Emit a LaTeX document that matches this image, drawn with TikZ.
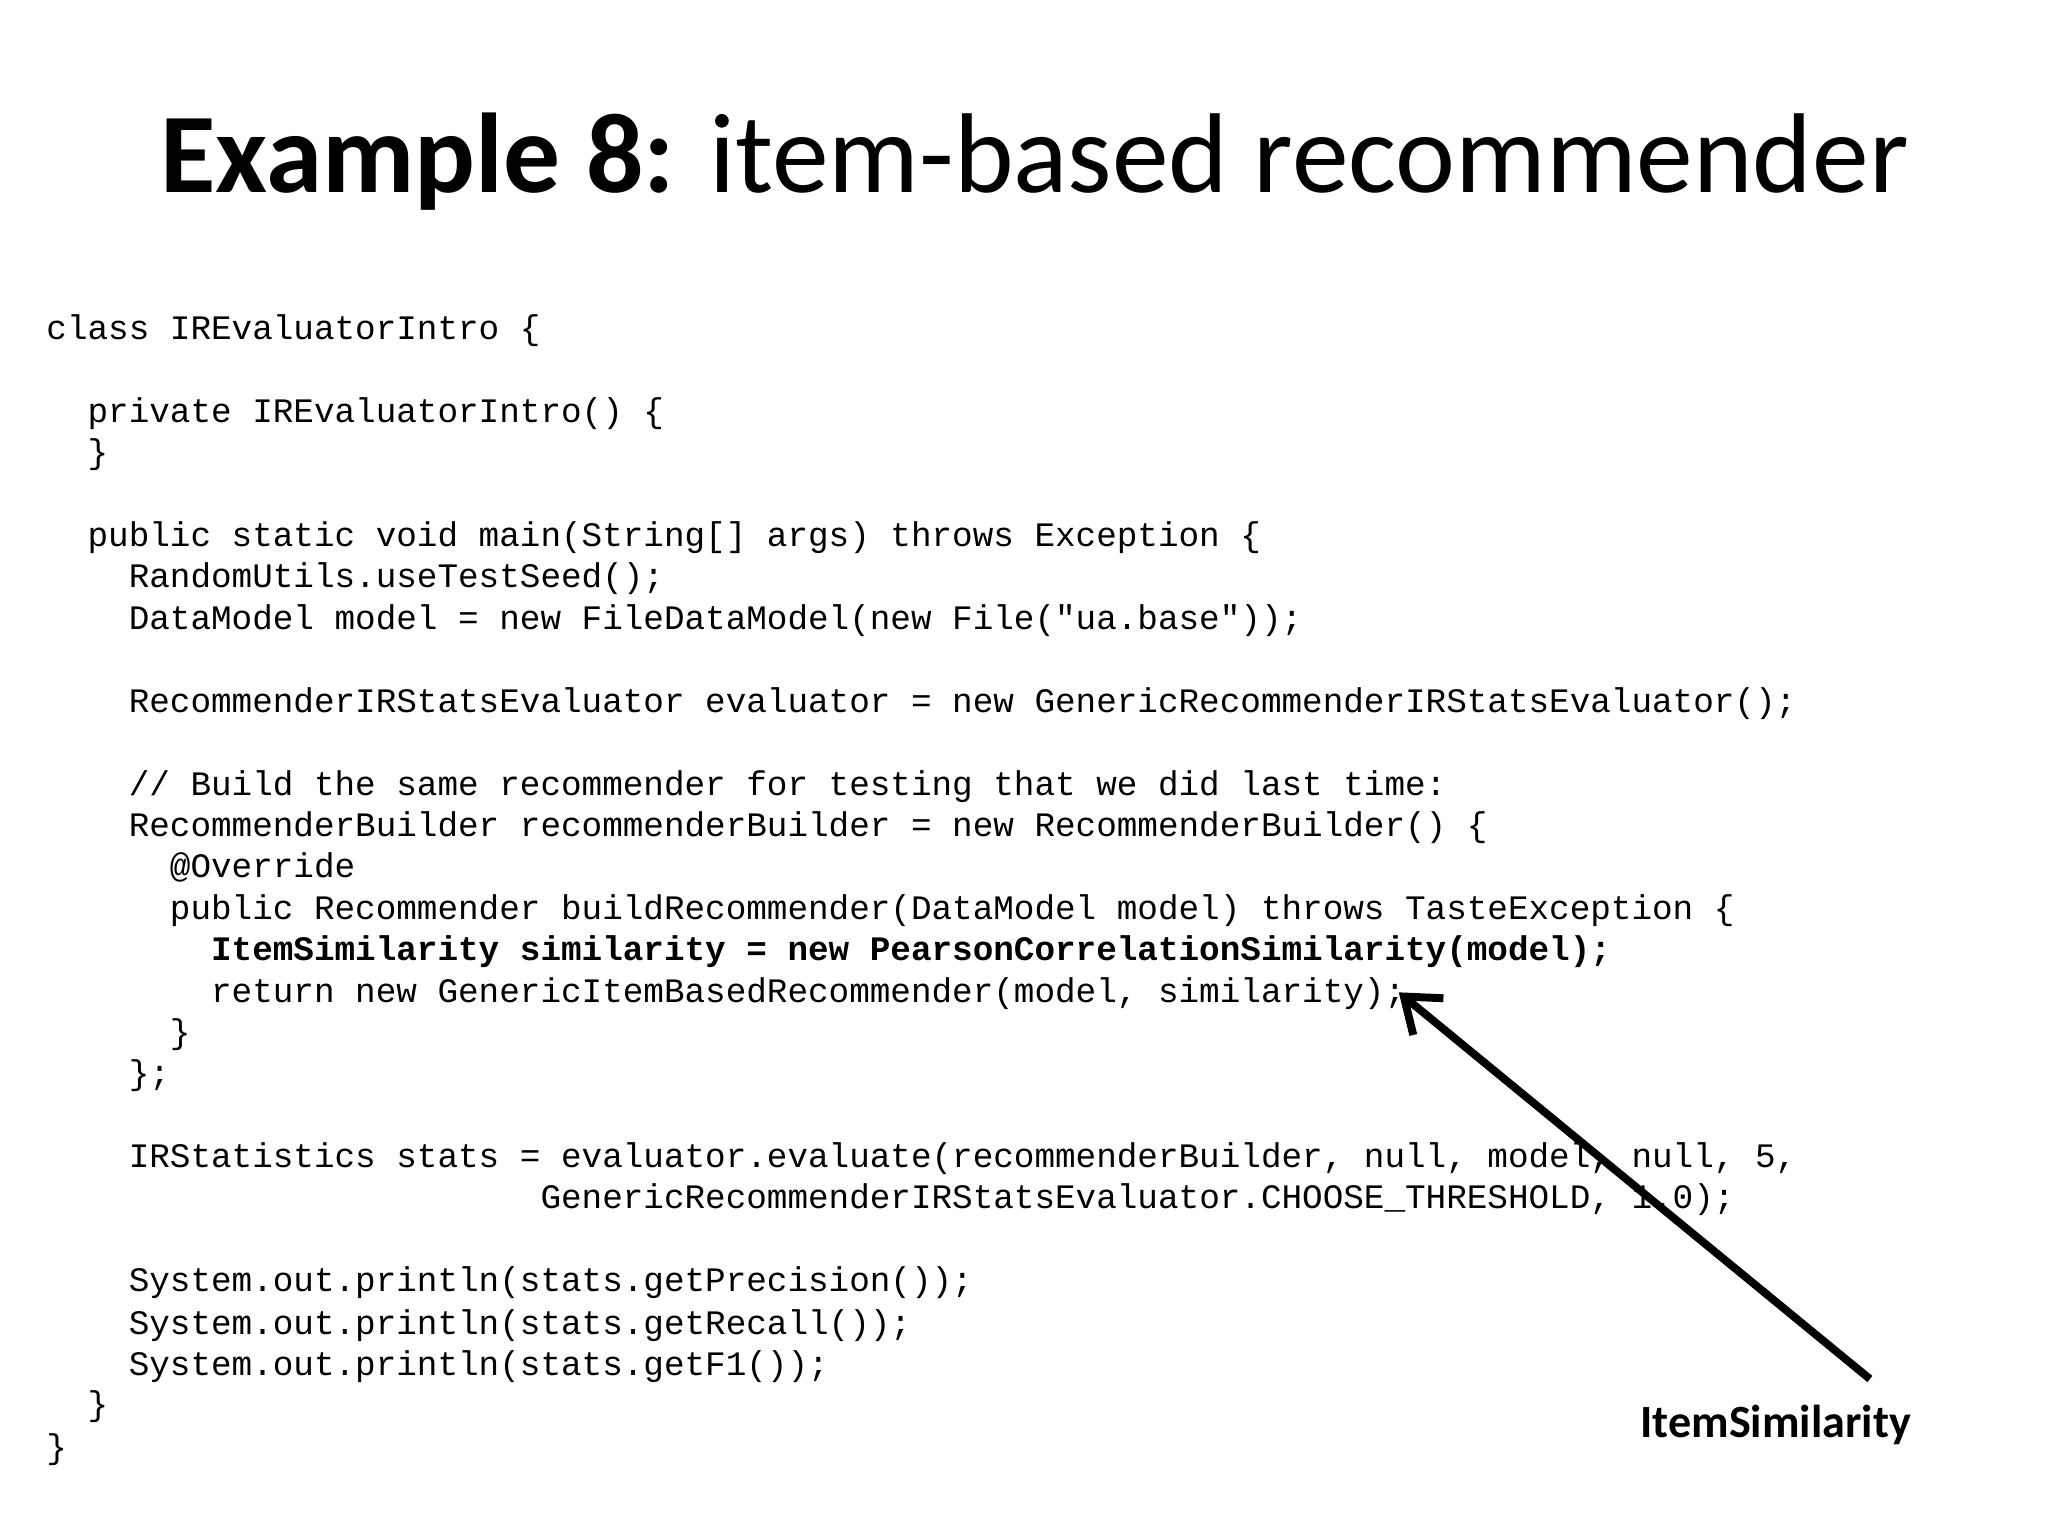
\documentclass[tikz,border=0pt]{standalone}
\usepackage{fontspec}
\setmainfont{Carlito}
\setmonofont{Liberation Mono}
\usetikzlibrary{arrows.meta}
\begin{document}
\begin{tikzpicture}[x=1pt,y=-1pt,
  code/.style={anchor=base west,inner sep=0pt,font=\fontsize{26}{31.5}\selectfont\ttfamily}]
\useasboundingbox (0,0) rectangle (1552,1164);
\node[inner sep=0pt,anchor=base] (title) at (784,146) {\fontsize{86}{96}\selectfont\textbf{Example 8:} item-based recommender};
\def\cw{15.6}
\foreach \n/\ind/\y/\t in {
 1/0/253/{class IREvaluatorIntro \{},
 2/2/316/{private IREvaluatorIntro() \{},
 3/2/347/{\}},
 4/2/410/{public static void main(String[] args) throws Exception \{},
 5/4/441/{RandomUtils.useTestSeed();},
 6/4/473/{DataModel model = new FileDataModel(new File("ua.base"));},
 7/4/536/{RecommenderIRStatsEvaluator evaluator = new GenericRecommenderIRStatsEvaluator();},
 8/4/599/{// Build the same recommender for testing that we did last time:},
 9/4/630/{RecommenderBuilder recommenderBuilder = new RecommenderBuilder() \{},
 10/6/661/{@Override},
 11/6/693/{public Recommender buildRecommender(DataModel model) throws TasteException \{},
 12/8/724/{\textbf{ItemSimilarity similarity = new PearsonCorrelationSimilarity(model);}},
 13/8/756/{return new GenericItemBasedRecommender(model, similarity);},
 14/6/787/{\}},
 15/4/818/{\};},
 16/4/881/{IRStatistics stats = evaluator.evaluate(recommenderBuilder, null, model, null, 5,},
 17/24/912/{GenericRecommenderIRStatsEvaluator.CHOOSE\_THRESHOLD, 1.0);},
 18/4/975/{System.out.println(stats.getPrecision());},
 19/4/1007/{System.out.println(stats.getRecall());},
 20/4/1038/{System.out.println(stats.getF1());},
 21/2/1069/{\}},
 22/0/1101/{\}}}
 \node[code] (l\n) at ({35+\cw*\ind},\y+4) {\t};
\node[inner sep=0pt,anchor=base west] (lab) at (1243,1089) {\fontsize{35}{40}\selectfont\textbf{ItemSimilarity}};
\coordinate (tail) at (1417,1045);
\coordinate (tip) at (1060,752);
\draw[line width=6pt,-{Straight Barb[length=24pt,width=36pt,line width=6pt]}] (tail) -- (tip);
\end{tikzpicture}
\end{document}
